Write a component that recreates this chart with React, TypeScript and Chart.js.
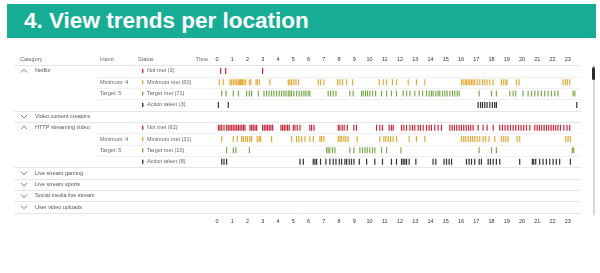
import React, { useEffect, useRef } from "react";
import { Chart, registerables } from "chart.js";

Chart.register(...registerables);

// ---------- table labels ----------
const categories = ["Netflix", "Video content creators", "HTTP streaming video", "Live stream gaming", "Live stream sports", "Social media live stream", "User video uploads"];
const categoryRow = [0, 4, 5, 9, 10, 11, 12];
const categoryOpen = [true, false, true, false, false, false, false];
const intents = ["Minimum: 4", "Target: 5", "Minimum: 4", "Target: 5"];
const intentRow = [1, 2, 6, 7];
const statuses = ["Not met (3)", "Minimum met (60)", "Target met (71)", "Action taken (3)", "Not met (92)", "Minimum met (31)", "Target met (10)", "Action taken (8)"];
const statusRow = [0, 1, 2, 3, 5, 6, 7, 8];
const statusColor = ["#c4263a", "#e0aa36", "#7cab4e", "#333333", "#c4263a", "#e0aa36", "#7cab4e", "#333333"];
const headers = ["Category", "Intent", "Status", "Time"];
const hourTicks = [0, 1, 2, 3, 4, 5, 6, 7, 8, 9, 10, 11, 12, 13, 14, 15, 16, 17, 18, 19, 20, 21, 22, 23];

// ---------- event times (hour of day) ----------
const netflixNotMet = [0.24, 0.57, 2.99];
const netflixMinMet = [0.15, 0.41, 0.85, 0.96, 1.07, 1.18, 1.29, 1.4, 1.46, 1.55, 1.62, 1.68, 1.77, 1.88, 2.12, 2.23, 2.56, 2.64, 2.77, 3.47, 4.67, 4.78, 4.89, 5.04, 5.18, 5.35, 6.64, 6.79, 7.01, 7.91, 8.06, 8.23, 8.5, 8.89, 10.64, 10.9, 11.12, 11.51, 11.77, 12.54, 13.08, 13.63, 16.03, 16.14, 16.27, 16.36, 16.47, 16.58, 16.69, 16.79, 16.9, 17.06, 17.23, 17.41, 17.56, 17.71, 17.89, 18.11, 18.65, 18.8, 18.94, 19.02, 19.63, 19.81, 22.69, 22.84, 22.98, 23.13];
const netflixTargetMet = [0.31, 0.59, 1.07, 1.4, 1.94, 2.12, 2.27, 2.71, 3.08, 3.25, 3.41, 3.58, 3.73, 3.91, 4.08, 4.24, 4.39, 4.52, 4.67, 4.78, 4.89, 5.04, 5.22, 5.39, 5.55, 5.7, 5.83, 5.98, 6.09, 7.29, 7.45, 7.62, 7.8, 8.71, 8.93, 9.48, 9.59, 9.74, 9.87, 10.02, 10.2, 10.4, 10.79, 11.12, 11.44, 11.77, 12.21, 12.43, 12.65, 12.97, 13.26, 13.48, 13.74, 13.91, 14.06, 14.17, 14.35, 14.5, 14.61, 14.79, 14.94, 15.09, 15.27, 15.44, 15.59, 15.75, 15.88, 17.19, 18.0, 18.32, 19.2, 19.42, 19.59, 20.07, 20.4, 20.62, 20.84, 21.05, 21.27, 21.49, 21.71, 21.93, 22.15, 22.36, 23.35, 23.46];
const netflixAction = [0.09, 0.74, 17.12, 17.28, 17.41, 17.56, 17.71, 17.89, 18.06, 18.21, 18.32, 23.59];
const httpNotMet = [0.09, 0.2, 0.31, 0.46, 0.63, 0.74, 0.85, 0.96, 1.07, 1.18, 1.29, 1.4, 1.51, 1.62, 1.73, 1.83, 2.16, 2.27, 2.38, 2.49, 2.6, 2.99, 3.1, 3.21, 3.32, 3.43, 3.54, 3.65, 4.19, 4.3, 4.41, 4.52, 4.63, 4.74, 5.0, 5.11, 5.26, 5.44, 6.09, 6.2, 6.36, 7.95, 8.06, 8.21, 8.34, 8.54, 8.98, 9.15, 10.46, 10.68, 10.85, 11.29, 11.44, 11.55, 12.1, 12.25, 12.43, 12.65, 12.82, 12.97, 13.19, 13.34, 13.52, 13.74, 13.91, 14.06, 14.28, 14.5, 14.72, 15.27, 15.42, 15.57, 15.72, 15.88, 16.03, 16.18, 16.34, 16.49, 16.64, 16.79, 17.12, 17.45, 17.71, 18.11, 18.54, 18.72, 18.89, 19.07, 19.24, 19.42, 19.59, 19.77, 19.94, 20.11, 20.29, 20.51, 20.84, 20.99, 21.14, 21.29, 21.45, 21.6, 21.75, 21.91, 22.06, 22.21, 22.36, 22.52, 22.74, 22.95, 23.13];
const httpMinMet = [0.31, 1.07, 1.33, 1.62, 1.73, 1.88, 2.01, 2.16, 2.27, 2.64, 2.77, 2.86, 3.58, 4.89, 5.22, 5.37, 5.55, 5.77, 6.09, 6.31, 6.75, 6.86, 7.01, 7.95, 8.06, 8.17, 8.32, 8.45, 8.6, 9.19, 10.68, 10.94, 11.07, 11.23, 11.38, 11.55, 11.77, 12.6, 13.08, 13.63, 16.03, 16.18, 16.31, 16.47, 16.62, 16.75, 16.9, 17.06, 17.23, 17.45, 17.62, 17.84, 18.21, 18.65, 18.8, 18.94, 19.09, 19.68, 19.85, 22.87, 23.02, 23.17];
const httpTargetMet = [0.63, 1.07, 1.24, 2.12, 7.19, 7.29, 7.4, 7.58, 7.73, 8.71, 8.98, 9.37, 9.54, 9.7, 9.85, 10.02, 10.2, 10.35, 10.79, 11.12, 12.06, 17.19, 18.0, 18.32, 23.3, 23.39];
const httpAction = [0.31, 0.46, 0.63, 5.44, 5.66, 6.31, 6.42, 6.53, 6.79, 7.14, 7.4, 7.62, 7.8, 8.02, 8.17, 8.39, 8.5, 8.67, 8.82, 8.98, 9.33, 9.81, 10.35, 10.85, 11.44, 11.77, 12.1, 12.21, 12.32, 12.43, 12.6, 13.04, 14.17, 14.35, 14.89, 15.05, 15.22, 15.38, 16.36, 16.53, 16.69, 16.9, 17.19, 17.34, 17.78, 17.93, 18.11, 18.32, 18.54, 19.85, 20.68, 20.77, 20.9, 21.16, 21.38, 21.6, 21.82, 22.04, 22.25, 22.47, 23.17];

const seriesTimes = [netflixNotMet, netflixMinMet, netflixTargetMet, netflixAction, httpNotMet, httpMinMet, httpTargetMet, httpAction];

// separators (between rows)
const fullSeparators = [-0.5, 3.5, 4.5, 8.5, 9.5, 10.5, 11.5, 12.5];
const subSeparators = [0.5, 1.5, 2.5, 5.5, 6.5, 7.5];

const FONT = "'Liberation Sans', Arial, sans-serif";

const tablePlugin = {
  id: "tablePlugin",
  beforeDatasetsDraw(chart: any) {
    const { ctx, scales } = chart;
    const y = scales.y;
    ctx.save();
    ctx.lineWidth = 1;
    ctx.strokeStyle = "#e6e6e6";
    fullSeparators.forEach((v) => {
      const py = Math.round(y.getPixelForValue(v)) + 0.5;
      ctx.beginPath();
      ctx.moveTo(14, py);
      ctx.lineTo(581, py);
      ctx.stroke();
    });
    ctx.strokeStyle = "#f0f0f0";
    subSeparators.forEach((v) => {
      const py = Math.round(y.getPixelForValue(v)) + 0.5;
      ctx.beginPath();
      ctx.moveTo(97, py);
      ctx.lineTo(581, py);
      ctx.stroke();
    });
    ctx.restore();
  },
  afterDatasetsDraw(chart: any) {
    const { ctx, scales } = chart;
    const y = scales.y;
    ctx.save();
    ctx.font = `5.5px ${FONT}`;
    ctx.textBaseline = "middle";
    ctx.textAlign = "left";
    // header row
    const hy = y.getPixelForValue(-1.05);
    ctx.fillStyle = "#666";
    const headerX = [20, 100, 138, 196];
    headers.forEach((h, i) => ctx.fillText(h, headerX[i], hy));
    // categories
    categories.forEach((c, i) => {
      const py = y.getPixelForValue(categoryRow[i]);
      ctx.fillStyle = "#555";
      ctx.fillText(c, 35, py);
      ctx.strokeStyle = "#666";
      ctx.lineWidth = 0.9;
      ctx.beginPath();
      if (categoryOpen[i]) {
        ctx.moveTo(21, py + 1.6);
        ctx.lineTo(24, py - 1.4);
        ctx.lineTo(27, py + 1.6);
      } else {
        ctx.moveTo(21, py - 1.4);
        ctx.lineTo(24, py + 1.6);
        ctx.lineTo(27, py - 1.4);
      }
      ctx.stroke();
    });
    // intents
    ctx.fillStyle = "#666";
    intents.forEach((t, i) => ctx.fillText(t, 100, y.getPixelForValue(intentRow[i])));
    // statuses
    statuses.forEach((s, i) => {
      const py = y.getPixelForValue(statusRow[i]);
      ctx.fillStyle = statusColor[i];
      ctx.fillRect(142, py - 2, 1.4, 4);
      ctx.fillStyle = "#666";
      ctx.fillText(s, 147, py);
    });
    ctx.restore();
  },
};

export default function App() {
  const canvasRef = useRef<HTMLCanvasElement | null>(null);

  useEffect(() => {
    const canvas = canvasRef.current;
    if (!canvas) return;
    const datasets = seriesTimes.map((times, i) => ({
      label: statuses[i],
      data: times.map((t) => ({ x: t, y: statusRow[i] })),
      pointStyle: "line" as const,
      rotation: 90,
      radius: 3,
      hoverRadius: 3,
      borderWidth: 1.2,
      borderColor: statusColor[i],
      backgroundColor: statusColor[i],
      showLine: false,
    }));
    const tickCfg = {
      autoSkip: false,
      maxRotation: 0,
      padding: 2,
      color: "#333",
      font: { size: 5.5, family: FONT },
      stepSize: 1,
      callback: (v: any) => (hourTicks.includes(Number(v)) ? String(v) : ""),
    };
    const chart = new Chart(canvas, {
      type: "scatter",
      data: { datasets },
      plugins: [tablePlugin],
      options: {
        animation: false,
        responsive: false,
        events: [],
        layout: { padding: { left: 217, right: 17, top: 54, bottom: 46 } },
        plugins: { legend: { display: false }, tooltip: { enabled: false } },
        scales: {
          x: {
            type: "linear",
            position: "bottom",
            min: 0,
            max: 24,
            grid: { display: false, drawTicks: false },
            border: { display: false },
            ticks: tickCfg,
          },
          xTop: {
            type: "linear",
            position: "top",
            min: 0,
            max: 24,
            grid: { display: false, drawTicks: false },
            border: { display: false },
            ticks: tickCfg,
          },
          y: {
            type: "linear",
            display: false,
            reverse: true,
            min: -0.557,
            max: 12.817,
          },
        },
      },
    });
    return () => chart.destroy();
  }, []);

  return (
    <div style={{ position: "absolute", left: 0, top: 0, width: 600, height: 273, background: "#fff" }}>
      <div
        style={{
          position: "absolute",
          left: 7,
          top: 4,
          width: 589,
          height: 34,
          background: "#17ad94",
          color: "#fff",
          fontFamily: FONT,
          fontWeight: 700,
          fontSize: 22.5,
          lineHeight: "34px",
          paddingLeft: 17,
          boxSizing: "border-box",
          whiteSpace: "nowrap",
        }}
      >
        4. View trends per location
      </div>
      <canvas ref={canvasRef} width={600} height={273} style={{ position: "absolute", left: 0, top: 0, width: 600, height: 273 }} />
      <div style={{ position: "absolute", left: 593, top: 65, width: 2, height: 150, background: "#d9d9d9" }} />
      <div style={{ position: "absolute", left: 592, top: 67, width: 3, height: 13, background: "#2b2b2b", borderRadius: 2 }} />
    </div>
  );
}
